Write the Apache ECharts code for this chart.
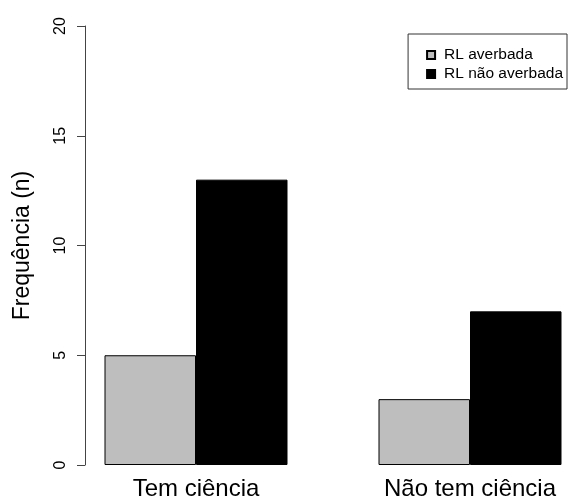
<!DOCTYPE html>
<html>
<head>
<meta charset="utf-8">
<script src="https://cdn.jsdelivr.net/npm/echarts@6/dist/echarts.min.js"></script>
<style>
  html, body { margin: 0; padding: 0; background: #fff; overflow: hidden; }
  #chart { width: 607px; height: 503px; }
</style>
</head>
<body>
<div id="chart"></div>
<script>
// Frequency of legal reserve (RL) registration by awareness group
const categories = ['Tem ciência', 'Não tem ciência'];
const averbada = [5, 3];
const naoAverbada = [13, 7];
const seriesNames = ['RL averbada', 'RL não averbada'];
const yTicks = { min: 0, max: 20, interval: 5 };

const FONT = '"Liberation Sans", Arial, Helvetica, sans-serif';

const chart = echarts.init(document.getElementById('chart'), null, { renderer: 'canvas' });

chart.setOption({
  backgroundColor: '#ffffff',
  animation: false,
  textStyle: { fontFamily: FONT, color: '#000' },
  // plot region runs past the visible page edge so the two groups sit where R's barplot puts them
  grid: { left: 59, right: 0, top: 26, bottom: 38, containLabel: false },
  xAxis: {
    type: 'category',
    data: categories,
    axisLine: { show: false },
    axisTick: { show: false },
    axisLabel: { fontSize: 24, color: '#000', margin: 12, fontFamily: FONT }
  },
  yAxis: {
    type: 'value',
    min: yTicks.min,
    max: yTicks.max,
    interval: yTicks.interval,
    offset: -26,
    splitLine: { show: false },
    axisLine: { show: true, lineStyle: { color: '#444', width: 1 } },
    axisTick: { show: true, length: 8, lineStyle: { color: '#444', width: 1 } },
    axisLabel: { rotate: 90, fontSize: 16, color: '#000', margin: 16, fontFamily: FONT },
    name: 'Frequência (n)',
    nameLocation: 'middle',
    nameRotate: 90,
    nameGap: 51,
    nameTextStyle: { fontSize: 23, color: '#000', fontFamily: FONT }
  },
  legend: {
    orient: 'vertical',
    right: 40,
    top: 34,
    padding: [13, 4, 7, 18],
    itemWidth: 8,
    itemHeight: 8,
    itemGap: 3,
    itemTextGap: 6,
    icon: 'rect',
    borderColor: '#333',
    borderWidth: 1,
    borderRadius: 0,
    textStyle: { fontSize: 15.5, lineHeight: 16, color: '#000', fontFamily: FONT, padding: [0, 0, 0, 4] },
    data: seriesNames
  },
  series: [
    {
      name: seriesNames[0],
      type: 'bar',
      data: averbada,
      barWidth: 91.5,
      barGap: '0%',
      itemStyle: { color: '#bebebe', borderColor: '#000', borderWidth: 1 }
    },
    {
      name: seriesNames[1],
      type: 'bar',
      data: naoAverbada,
      barWidth: 91.5,
      barGap: '0%',
      itemStyle: { color: '#000', borderColor: '#000', borderWidth: 1 }
    }
  ]
});
</script>
</body>
</html>
